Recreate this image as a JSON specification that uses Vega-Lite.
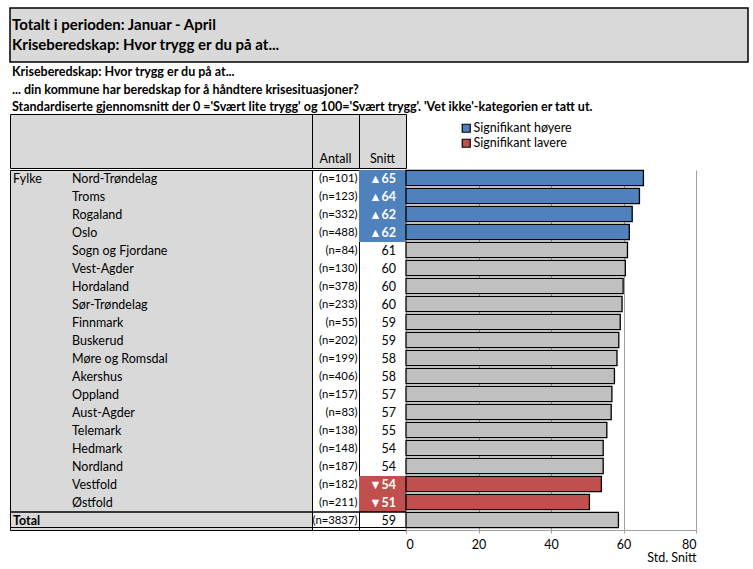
{
  "$schema": "https://vega.github.io/schema/vega-lite/v6.json",
  "background": "white",
  "padding": {"left": 8, "top": 7, "right": 0, "bottom": 0},
  "config": {
    "font": "Lato",
    "view": {"stroke": null},
    "concat": {"spacing": 0},
    "text": {"font": "Lato", "fontSize": 12.5, "color": "black"},
    "axis": {"labelFont": "Lato", "titleFont": "Lato"},
    "legend": {"labelFont": "Lato"}
  },
  "datasets": {
    "rows": [
      {"name": "Nord-Trøndelag", "group": "Fylke", "n": "(n=101)", "snitt": "▲65", "value": 65.5, "sig": "Signifikant høyere"},
      {"name": "Troms", "group": "", "n": "(n=123)", "snitt": "▲64", "value": 64.4, "sig": "Signifikant høyere"},
      {"name": "Rogaland", "group": "", "n": "(n=332)", "snitt": "▲62", "value": 62.4, "sig": "Signifikant høyere"},
      {"name": "Oslo", "group": "", "n": "(n=488)", "snitt": "▲62", "value": 61.6, "sig": "Signifikant høyere"},
      {"name": "Sogn og Fjordane", "group": "", "n": "(n=84)", "snitt": "61", "value": 61.1, "sig": "Ikke signifikant"},
      {"name": "Vest-Agder", "group": "", "n": "(n=130)", "snitt": "60", "value": 60.5, "sig": "Ikke signifikant"},
      {"name": "Hordaland", "group": "", "n": "(n=378)", "snitt": "60", "value": 59.9, "sig": "Ikke signifikant"},
      {"name": "Sør-Trøndelag", "group": "", "n": "(n=233)", "snitt": "60", "value": 59.6, "sig": "Ikke signifikant"},
      {"name": "Finnmark", "group": "", "n": "(n=55)", "snitt": "59", "value": 59.1, "sig": "Ikke signifikant"},
      {"name": "Buskerud", "group": "", "n": "(n=202)", "snitt": "59", "value": 58.7, "sig": "Ikke signifikant"},
      {"name": "Møre og Romsdal", "group": "", "n": "(n=199)", "snitt": "58", "value": 58.2, "sig": "Ikke signifikant"},
      {"name": "Akershus", "group": "", "n": "(n=406)", "snitt": "58", "value": 57.5, "sig": "Ikke signifikant"},
      {"name": "Oppland", "group": "", "n": "(n=157)", "snitt": "57", "value": 56.8, "sig": "Ikke signifikant"},
      {"name": "Aust-Agder", "group": "", "n": "(n=83)", "snitt": "57", "value": 56.6, "sig": "Ikke signifikant"},
      {"name": "Telemark", "group": "", "n": "(n=138)", "snitt": "55", "value": 55.4, "sig": "Ikke signifikant"},
      {"name": "Hedmark", "group": "", "n": "(n=148)", "snitt": "54", "value": 54.4, "sig": "Ikke signifikant"},
      {"name": "Nordland", "group": "", "n": "(n=187)", "snitt": "54", "value": 54.4, "sig": "Ikke signifikant"},
      {"name": "Vestfold", "group": "", "n": "(n=182)", "snitt": "▼54", "value": 53.9, "sig": "Signifikant lavere"},
      {"name": "Østfold", "group": "", "n": "(n=211)", "snitt": "▼51", "value": 50.6, "sig": "Signifikant lavere"},
      {"name": "Total", "group": "Total", "n": "(n=3837)", "snitt": "59", "value": 58.6, "sig": "Ikke signifikant"}
    ],
    "titles": [
      {"k": "l1", "t": "Totalt i perioden: Januar - April"},
      {"k": "l2", "t": "Kriseberedskap: Hvor trygg er du på at..."}
    ]
  },
  "spacing": 3,
  "vconcat": [
    {
      "width": 738,
      "height": 54,
      "view": {"fill": "#d9d9d9", "stroke": "black", "strokeWidth": 1.5},
      "data": {"name": "titles"},
      "mark": {"type": "text", "align": "left", "fontSize": 15, "fontWeight": "bold", "dx": 2},
      "encoding": {
        "y": {"field": "k", "type": "nominal", "axis": null, "scale": {"type": "band", "domain": ["l1", "l2"], "paddingOuter": 0.3, "paddingInner": 0}},
        "x": {"datum": 0, "type": "quantitative", "scale": {"domain": [0, 1]}, "axis": null},
        "text": {"field": "t"}
      }
    },
    {
      "title": {
        "text": [
          "Kriseberedskap: Hvor trygg er du på at...",
          "... din kommune har beredskap for å håndtere krisesituasjoner?",
          "Standardiserte gjennomsnitt der 0 ='Svært lite trygg' og 100='Svært trygg'. 'Vet ikke'-kategorien er tatt ut."
        ],
        "anchor": "start",
        "frame": "group",
        "font": "Lato",
        "fontSize": 12.5,
        "fontWeight": "bold",
        "color": "black",
        "lineHeight": 17.5,
        "offset": 0,
        "dx": 2
      },
      "spacing": 0,
      "vconcat": [
        {
          "bounds": "flush",
          "spacing": 0,
          "hconcat": [
            {
              "width": 302,
              "height": 54,
              "view": {"fill": "#d9d9d9", "stroke": "black", "strokeWidth": 1},
              "data": {"values": [{"t": ""}]},
              "mark": {"type": "text"},
              "encoding": {"text": {"field": "t"}}
            },
            {
              "width": 47,
              "height": 54,
              "view": {"fill": "#d9d9d9", "stroke": "black", "strokeWidth": 1},
              "data": {"values": [{"t": "Antall"}]},
              "mark": {"type": "text"},
              "encoding": {
                "text": {"field": "t"},
                "y": {"datum": "h3", "type": "nominal", "axis": null, "scale": {"type": "point", "domain": ["h1", "h2", "h3"], "padding": 0.5}}
              }
            },
            {
              "width": 47,
              "height": 54,
              "view": {"fill": "#d9d9d9", "stroke": "black", "strokeWidth": 1},
              "data": {"values": [{"t": "Snitt"}]},
              "mark": {"type": "text"},
              "encoding": {
                "text": {"field": "t"},
                "y": {"datum": "h3", "type": "nominal", "axis": null, "scale": {"type": "point", "domain": ["h1", "h2", "h3"], "padding": 0.5}}
              }
            }
          ]
        },
        {
          "bounds": "flush",
          "spacing": 0,
          "hconcat": [
            {
              "width": 302,
              "height": 360,
              "view": {"fill": "#d9d9d9", "stroke": "black", "strokeWidth": 1},
              "data": {"name": "rows"},
              "encoding": {
                "y": {"field": "name", "type": "nominal", "axis": null, "scale": {"type": "band", "paddingInner": 0, "paddingOuter": 0, "domain": ["Nord-Trøndelag", "Troms", "Rogaland", "Oslo", "Sogn og Fjordane", "Vest-Agder", "Hordaland", "Sør-Trøndelag", "Finnmark", "Buskerud", "Møre og Romsdal", "Akershus", "Oppland", "Aust-Agder", "Telemark", "Hedmark", "Nordland", "Vestfold", "Østfold", "Total"]}}
              },
              "layer": [
                {
                  "transform": [{"filter": "datum.group === 'Fylke'"}],
                  "mark": {"type": "text", "align": "left", "dx": 3},
                  "encoding": {"x": {"datum": 0, "type": "quantitative", "scale": {"domain": [0, 1]}, "axis": null}, "text": {"field": "group"}}
                },
                {
                  "transform": [{"filter": "datum.group === 'Total'"}],
                  "mark": {"type": "text", "align": "left", "dx": 3, "fontWeight": "bold"},
                  "encoding": {"x": {"datum": 0, "type": "quantitative", "scale": {"domain": [0, 1]}, "axis": null}, "text": {"field": "group"}}
                },
                {
                  "transform": [{"filter": "datum.name !== 'Total'"}],
                  "mark": {"type": "text", "align": "left", "dx": 62},
                  "encoding": {"x": {"datum": 0, "type": "quantitative", "scale": {"domain": [0, 1]}, "axis": null}, "text": {"field": "name"}}
                },
                {
                  "transform": [{"filter": "datum.name === 'Total'"}],
                  "mark": {"type": "rule", "color": "black", "strokeWidth": 1.5},
                  "encoding": {"y": {"field": "name", "type": "nominal", "bandPosition": 0}}
                },
                {
                  "transform": [{"filter": "datum.name === 'Total'"}],
                  "mark": {"type": "rule", "color": "black", "strokeWidth": 1.2, "yOffset": -2.5},
                  "encoding": {"y": {"field": "name", "type": "nominal", "bandPosition": 1}}
                }
              ]
            },
            {
              "width": 47,
              "height": 360,
              "view": {"fill": "white", "stroke": "black", "strokeWidth": 1},
              "data": {"name": "rows"},
              "encoding": {
                "y": {"field": "name", "type": "nominal", "axis": null, "scale": {"type": "band", "paddingInner": 0, "paddingOuter": 0, "domain": ["Nord-Trøndelag", "Troms", "Rogaland", "Oslo", "Sogn og Fjordane", "Vest-Agder", "Hordaland", "Sør-Trøndelag", "Finnmark", "Buskerud", "Møre og Romsdal", "Akershus", "Oppland", "Aust-Agder", "Telemark", "Hedmark", "Nordland", "Vestfold", "Østfold", "Total"]}}
              },
              "layer": [
                {
                  "mark": {"type": "text", "align": "right", "dx": -1.5, "fontSize": 11.3},
                  "encoding": {"x": {"datum": 1, "type": "quantitative", "scale": {"domain": [0, 1]}, "axis": null}, "text": {"field": "n"}}
                },
                {
                  "transform": [{"filter": "datum.name === 'Total'"}],
                  "mark": {"type": "rule", "color": "black", "strokeWidth": 1.5},
                  "encoding": {"y": {"field": "name", "type": "nominal", "bandPosition": 0}}
                },
                {
                  "transform": [{"filter": "datum.name === 'Total'"}],
                  "mark": {"type": "rule", "color": "black", "strokeWidth": 1.2, "yOffset": -2.5},
                  "encoding": {"y": {"field": "name", "type": "nominal", "bandPosition": 1}}
                }
              ]
            },
            {
              "width": 47,
              "height": 360,
              "view": {"fill": "white", "stroke": "black", "strokeWidth": 1},
              "data": {"name": "rows"},
              "encoding": {
                "y": {"field": "name", "type": "nominal", "axis": null, "scale": {"type": "band", "paddingInner": 0, "paddingOuter": 0, "domain": ["Nord-Trøndelag", "Troms", "Rogaland", "Oslo", "Sogn og Fjordane", "Vest-Agder", "Hordaland", "Sør-Trøndelag", "Finnmark", "Buskerud", "Møre og Romsdal", "Akershus", "Oppland", "Aust-Agder", "Telemark", "Hedmark", "Nordland", "Vestfold", "Østfold", "Total"]}}
              },
              "layer": [
                {
                  "transform": [{"filter": "datum.sig !== 'Ikke signifikant'"}],
                  "mark": {"type": "rect"},
                  "encoding": {"fill": {"field": "sig", "type": "nominal", "scale": {"domain": ["Signifikant høyere", "Signifikant lavere"], "range": ["#4f81bd", "#c0504d"]}, "legend": null}}
                },
                {
                  "transform": [{"filter": "datum.sig === 'Ikke signifikant'"}],
                  "mark": {"type": "text", "align": "right", "dx": -10},
                  "encoding": {"x": {"datum": 1, "type": "quantitative", "scale": {"domain": [0, 1]}, "axis": null}, "text": {"field": "snitt"}}
                },
                {
                  "transform": [{"filter": "datum.sig !== 'Ikke signifikant'"}],
                  "mark": {"type": "text", "align": "right", "dx": -10, "color": "white", "fontWeight": "bold"},
                  "encoding": {"x": {"datum": 1, "type": "quantitative", "scale": {"domain": [0, 1]}, "axis": null}, "text": {"field": "snitt"}}
                },
                {
                  "transform": [{"filter": "datum.name === 'Total'"}],
                  "mark": {"type": "rule", "color": "black", "strokeWidth": 1.5},
                  "encoding": {"y": {"field": "name", "type": "nominal", "bandPosition": 0}}
                },
                {
                  "transform": [{"filter": "datum.name === 'Total'"}],
                  "mark": {"type": "rule", "color": "black", "strokeWidth": 1.2, "yOffset": -2.5},
                  "encoding": {"y": {"field": "name", "type": "nominal", "bandPosition": 1}}
                }
              ]
            },
            {
              "width": 290,
              "height": 360,
              "data": {"name": "rows"},
              "mark": {"type": "bar", "stroke": "black", "strokeWidth": 1.3, "height": {"band": 0.84}, "yOffset": -1},
              "encoding": {
                "y": {"field": "name", "type": "nominal", "axis": null, "scale": {"type": "band", "paddingInner": 0, "paddingOuter": 0, "domain": ["Nord-Trøndelag", "Troms", "Rogaland", "Oslo", "Sogn og Fjordane", "Vest-Agder", "Hordaland", "Sør-Trøndelag", "Finnmark", "Buskerud", "Møre og Romsdal", "Akershus", "Oppland", "Aust-Agder", "Telemark", "Hedmark", "Nordland", "Vestfold", "Østfold", "Total"]}},
                "x": {
                  "field": "value",
                  "type": "quantitative",
                  "scale": {"domain": [0, 80]},
                  "axis": {
                    "values": [0, 20, 40, 60, 80],
                    "grid": true,
                    "gridColor": "#a0a0a0",
                    "domainColor": "#a0a0a0",
                    "tickColor": "#a0a0a0",
                    "tickSize": 3,
                    "labelFontSize": 12.5,
                    "labelColor": "black",
                    "labelPadding": 5,
                    "title": "Std. Snitt",
                    "titleAnchor": "end",
                    "titleFontSize": 12.5,
                    "titleFontWeight": "normal",
                    "titleColor": "black",
                    "titlePadding": 1
                  }
                },
                "color": {
                  "field": "sig",
                  "type": "nominal",
                  "scale": {"domain": ["Signifikant høyere", "Signifikant lavere", "Ikke signifikant"], "range": ["#4f81bd", "#c0504d", "#c0c0c0"]},
                  "legend": {
                    "values": ["Signifikant høyere", "Signifikant lavere"],
                    "title": null,
                    "orient": "none",
                    "legendX": 450,
                    "legendY": 114,
                    "padding": 0,
                    "symbolType": "square",
                    "symbolSize": 64,
                    "symbolStrokeColor": "black",
                    "symbolStrokeWidth": 1.2,
                    "symbolOpacity": 1,
                    "labelFontSize": 12.5,
                    "labelColor": "black",
                    "labelOffset": 1,
                    "rowPadding": 1
                  }
                }
              }
            }
          ]
        }
      ]
    }
  ]
}
